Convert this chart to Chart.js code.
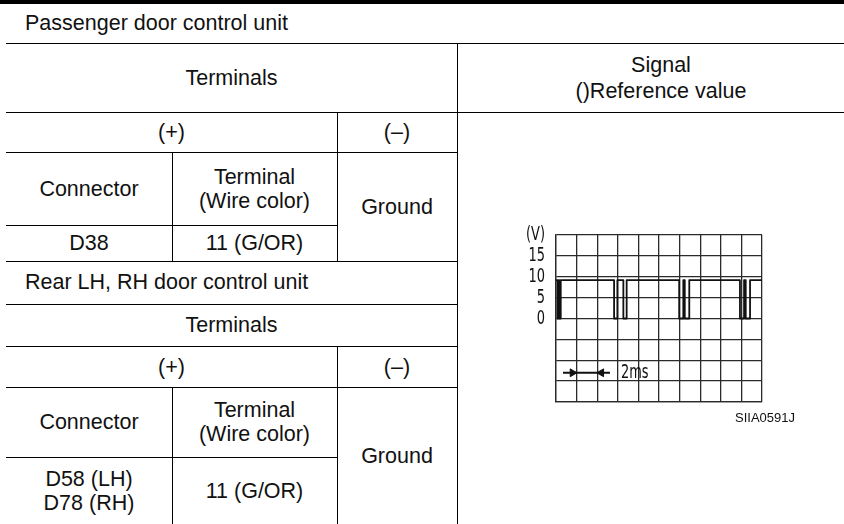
<!DOCTYPE html>
<html>
<head>
<meta charset="utf-8">
<script src="https://cdn.jsdelivr.net/npm/chart.js@4/dist/chart.umd.min.js"></script>
<style>
  html, body { margin: 0; padding: 0; background: #fff; }
  body { width: 844px; height: 524px; position: relative; overflow: hidden;
         font-family: "Liberation Sans", Arial, sans-serif; font-size: 21.5px; color: #111; }
  .h { position: absolute; height: 1px; background: #000; }
  .v { position: absolute; width: 1px; background: #000; }
  .c { position: absolute; display: flex; align-items: center; justify-content: center;
       text-align: center; line-height: 24px; }
  .l { position: absolute; display: flex; align-items: center; white-space: nowrap; }
  #bar { position: absolute; left: 0; top: 0; width: 844px; height: 4px; background: #000; }
  #wrap { position: absolute; left: 457px; top: 200px; width: 387px; height: 230px; }
  #code { position: absolute; left: 700px; top: 410px; width: 95px; text-align: right;
          font-size: 13px; line-height: 16px; }
</style>
</head>
<body>
<div id="bar"></div>

<!-- horizontal rules -->
<div class="h" style="left:6px;top:43px;width:838px"></div>
<div class="h" style="left:6px;top:112px;width:838px"></div>
<div class="h" style="left:6px;top:152px;width:451px"></div>
<div class="h" style="left:6px;top:225px;width:331px"></div>
<div class="h" style="left:6px;top:261px;width:451px"></div>
<div class="h" style="left:6px;top:304px;width:451px"></div>
<div class="h" style="left:6px;top:346px;width:451px"></div>
<div class="h" style="left:6px;top:387px;width:451px"></div>
<div class="h" style="left:6px;top:457px;width:331px"></div>
<!-- vertical rules -->
<div class="v" style="left:172px;top:152px;height:109px"></div>
<div class="v" style="left:172px;top:387px;height:137px"></div>
<div class="v" style="left:337px;top:112px;height:149px"></div>
<div class="v" style="left:337px;top:346px;height:178px"></div>
<div class="v" style="left:457px;top:43px;height:481px"></div>

<!-- text -->
<div class="l" style="left:25px;top:4px;height:39px">Passenger door control unit</div>
<div class="c" style="left:6px;top:43px;width:451px;height:69px">Terminals</div>
<div class="c" style="left:457px;top:43px;width:408px;height:69px;line-height:26px">Signal<br>()Reference value</div>
<div class="c" style="left:6px;top:112px;width:331px;height:40px">(+)</div>
<div class="c" style="left:337px;top:112px;width:120px;height:40px">(–)</div>
<div class="c" style="left:6px;top:152px;width:166px;height:73px">Connector</div>
<div class="c" style="left:172px;top:152px;width:165px;height:73px">Terminal<br>(Wire color)</div>
<div class="c" style="left:337px;top:152px;width:120px;height:109px">Ground</div>
<div class="c" style="left:6px;top:225px;width:166px;height:36px">D38</div>
<div class="c" style="left:172px;top:225px;width:165px;height:36px">11 (G/OR)</div>
<div class="l" style="left:25px;top:261px;height:43px">Rear LH, RH door control unit</div>
<div class="c" style="left:6px;top:304px;width:451px;height:42px">Terminals</div>
<div class="c" style="left:6px;top:346px;width:331px;height:41px">(+)</div>
<div class="c" style="left:337px;top:346px;width:120px;height:41px">(–)</div>
<div class="c" style="left:6px;top:387px;width:166px;height:70px">Connector</div>
<div class="c" style="left:172px;top:387px;width:165px;height:70px">Terminal<br>(Wire color)</div>
<div class="c" style="left:337px;top:387px;width:120px;height:137px">Ground</div>
<div class="c" style="left:6px;top:457px;width:166px;height:67px">D58 (LH)<br>D78 (RH)</div>
<div class="c" style="left:172px;top:457px;width:165px;height:67px">11 (G/OR)</div>

<div id="wrap"><canvas id="scope"></canvas></div>
<div id="code">SIIA0591J</div>

<script>
// ---- data ----
const timeMs = [0, 0.14, 0.14, 0.26, 0.26, 0.32, 0.32, 0.46, 0.46,
                5.64, 5.64, 5.96, 5.96, 6.54, 6.54, 6.86, 6.86,
                11.96, 11.96, 12.36, 12.36, 12.5, 12.5, 12.94, 12.94,
                17.86, 17.86, 18.26, 18.26, 18.42, 18.42, 18.84, 18.84, 20];
const volts  = [9.2, 9.2, 0, 0, 9.2, 9.2, 0, 0, 9.2,
                9.2, 0, 0, 9.2, 9.2, 0, 0, 9.2,
                9.2, 0, 0, 9.2, 9.2, 0, 0, 9.2,
                9.2, 0, 0, 9.2, 9.2, 0, 0, 9.2, 9.2];
const voltTickLabels = [0, 5, 10, 15];
const unitLabel = '(V)';
const timeRange = [0, 20];      // 10 divisions x 2 ms
const voltRange = [-20, 20];    // 8 divisions x 5 V
const timeDivLabel = '2ms';
const divMarkerTimes = [0.68, 5.24];
const divMarkerVolts = [-13, -13];
const divHeadTimes = [1.6, 4.4];
const divHeadVolts = [-13, -13];
const labelTime = 6.3;
const labelVolt = -13;

const narrow = '"Liberation Sans Narrow", "DejaVu Sans Condensed", "Liberation Sans", sans-serif';
const squeeze = 0.72;   // horizontal compression of the scope lettering

const labelPlugin = {
  id: 'divLabel',
  afterDatasetsDraw(chart) {
    const { ctx, scales } = chart;
    const x = scales.x.getPixelForValue(labelTime);
    const y = scales.y.getPixelForValue(labelVolt);
    ctx.save();
    ctx.translate(x, y);
    ctx.scale(squeeze, 1);
    ctx.fillStyle = '#111';
    ctx.font = '20px ' + narrow;
    ctx.textAlign = 'left';
    ctx.textBaseline = 'middle';
    ctx.fillText(timeDivLabel, 0, 0);
    ctx.restore();
  }
};

new Chart(document.getElementById('scope'), {
  type: 'line',
  data: {
    datasets: [
      {
        data: timeMs.map((t, i) => ({ x: t, y: volts[i] })),
        borderColor: '#111', borderWidth: 1.8, pointRadius: 0, tension: 0,
        borderJoinStyle: 'round', fill: false
      },
      {
        data: divMarkerTimes.map((t, i) => ({ x: t, y: divMarkerVolts[i] })),
        borderColor: '#111', borderWidth: 2, pointRadius: 0, fill: false
      },
      {
        data: divHeadTimes.map((t, i) => ({ x: t, y: divHeadVolts[i] })),
        showLine: false, pointStyle: 'triangle', pointRadius: 4.5,
        pointRotation: [90, 270], pointBackgroundColor: '#111', pointBorderColor: '#111',
        pointBorderWidth: 1
      }
    ]
  },
  options: {
    responsive: true, maintainAspectRatio: false, animation: false,
    events: [],
    layout: { padding: { left: 43, top: 35, right: 82, bottom: 28 } },
    plugins: { legend: { display: false }, tooltip: { enabled: false } },
    scales: {
      x: {
        type: 'linear', min: timeRange[0], max: timeRange[1],
        ticks: { display: false, stepSize: 2 },
        grid: { color: '#2a2a2a', lineWidth: 1.3, drawTicks: false },
        border: { color: '#2a2a2a', width: 1.3 },
        afterFit(scale) { scale.height = 0; }
      },
      y: {
        type: 'linear', min: voltRange[0], max: voltRange[1],
        ticks: {
          stepSize: 5, autoSkip: false, padding: 11, color: '#111',
          font: { family: narrow, size: 20 },
          callback: v => v === voltRange[1] ? unitLabel : (voltTickLabels.includes(v) ? String(v) : '')
        },
        grid: { color: '#2a2a2a', lineWidth: 1.3, drawTicks: false },
        border: { color: '#2a2a2a', width: 1.3 },
        afterFit(scale) {
          scale.width = 56;
          if (!scale._squeezed) {
            scale._squeezed = true;
            const orig = scale.drawLabels.bind(scale);
            scale.drawLabels = function (area) {
              const ctx = this.ctx;
              const xr = this.right - this.options.ticks.padding;
              ctx.save();
              ctx.translate(xr, 0);
              ctx.scale(squeeze, 1);
              ctx.translate(-xr, 0);
              orig(area);
              ctx.restore();
            };
          }
        }
      }
    }
  },
  plugins: [labelPlugin]
});
</script>
</body>
</html>
